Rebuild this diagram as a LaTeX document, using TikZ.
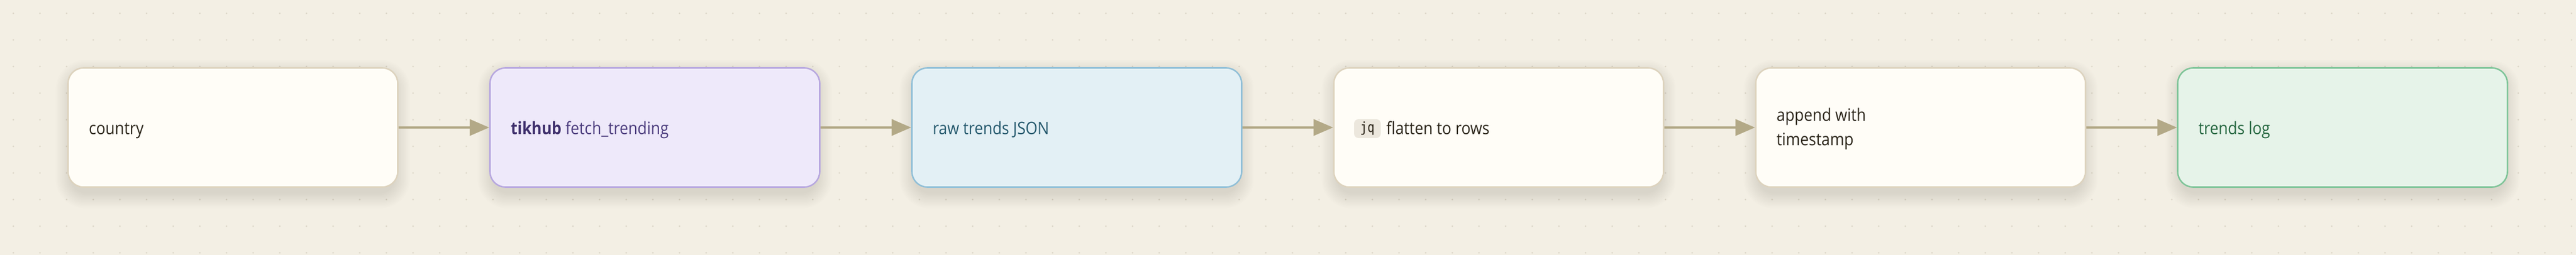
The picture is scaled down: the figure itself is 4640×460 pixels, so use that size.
\documentclass[tikz,border=0pt]{standalone}
\usepackage{fontspec}
\setmainfont{Open Sans}[FakeStretch=0.89]
\newfontfamily\codefont{DejaVu Sans Mono}[FakeStretch=0.85]
\usetikzlibrary{arrows.meta}
\definecolor{bgc}{HTML}{F3EFE4}
\definecolor{dotc}{HTML}{DDD7C9}
\definecolor{shadowc}{HTML}{7A6A40}
\definecolor{plainfill}{HTML}{FFFDF7}
\definecolor{plainline}{HTML}{DDD3BE}
\definecolor{plaintext}{HTML}{2B2519}
\definecolor{purpfill}{HTML}{EEE9FA}
\definecolor{purpline}{HTML}{B7A7DF}
\definecolor{purptext}{HTML}{4B3C7D}
\definecolor{purpbold}{HTML}{3E2F6C}
\definecolor{bluefill}{HTML}{E3F0F5}
\definecolor{blueline}{HTML}{90BFD7}
\definecolor{bluetext}{HTML}{25596D}
\definecolor{greenfill}{HTML}{E6F3E9}
\definecolor{greenline}{HTML}{7EC498}
\definecolor{greentext}{HTML}{24663F}
\definecolor{arrowc}{HTML}{B3A987}
\definecolor{badgec}{HTML}{ECE7DD}
\begin{document}
\begin{tikzpicture}[x=1pt,y=-1pt,
  box/.style={draw, line width=2.6pt, rounded corners=28pt, minimum width=594pt, minimum height=215pt, inner sep=0pt},
  plainbox/.style={box, draw=plainline, fill=plainfill},
  purpbox/.style={box, draw=purpline, fill=purpfill},
  bluebox/.style={box, draw=blueline, fill=bluefill},
  greenbox/.style={box, draw=greenline, fill=greenfill},
  lbl/.style={anchor=base west, inner sep=0pt, font=\fontsize{31}{44}\selectfont},
  lbltwo/.style={anchor=west, inner sep=0pt, align=left, font=\fontsize{31}{44}\selectfont},
  badge/.style={fill=badgec, rounded corners=8pt, minimum width=48pt, minimum height=34pt, inner sep=0pt, font=\codefont\fontsize{25}{30}\selectfont, text=plaintext},
  flow/.style={draw=arrowc, line width=4.5pt, -{Triangle[length=35pt,width=29pt]}},
]
\fill[bgc] (0,0) rectangle (4640,460);
\useasboundingbox (0,0) rectangle (4640,460);
% dotted grid
\foreach \gx in {0,...,96} {
  \foreach \gy in {0,...,9} {
    \fill[dotc] ({24+48*\gx},{24+48*\gy}) circle (1.6pt);
  }
}
% soft shadows
\foreach \i in {0,...,5} {
  \foreach \k in {0,...,12} {
    \pgfmathsetmacro\rr{28+2*\k}
    \fill[shadowc, opacity=0.011, rounded corners=\rr pt]
      ({127+760*\i-\k*2.2}, {135-\k*2.2}) rectangle ({712+760*\i+\k*2.2}, {349+\k*2.2});
  }
}
% boxes
\node[plainbox] (b1) at (419.5,230) {};
\node[purpbox]  (b2) at (1179.5,230) {};
\node[bluebox]  (b3) at (1939.5,230) {};
\node[plainbox] (b4) at (2699.5,230) {};
\node[plainbox] (b5) at (3459.5,230) {};
\node[greenbox] (b6) at (4219.5,230) {};
% labels
\node[lbl, text=plaintext] (t1) at (160,242) {country};
\node[lbl, text=purptext] (t2) at (920,242) {{\bfseries\color{purpbold}tikhub} fetch\_trending};
\node[lbl, text=bluetext] (t3) at (1680,242) {raw trends JSON};
\node[badge] (jq) at (2463,232) {jq};
\node[lbl, text=plaintext] (t4) at (2497,242) {flatten to rows};
\node[lbltwo, text=plaintext] (t5) at (3200,232.5) {append with\\timestamp};
\node[lbl, text=greentext] (t6) at (3960,242) {trends log};
% connectors
\draw[flow] (b1.east) -- (b2.west);
\draw[flow] (b2.east) -- (b3.west);
\draw[flow] (b3.east) -- (b4.west);
\draw[flow] (b4.east) -- (b5.west);
\draw[flow] (b5.east) -- (b6.west);
\end{tikzpicture}
\end{document}
